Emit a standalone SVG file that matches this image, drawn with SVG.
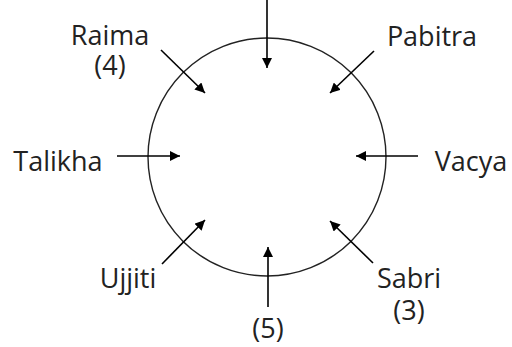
<svg xmlns="http://www.w3.org/2000/svg" width="512" height="347" viewBox="0 0 512 347">
<defs>
<marker id="ah" markerWidth="10" markerHeight="10" viewBox="0 0 10 10" refX="10" refY="5" orient="auto" markerUnits="userSpaceOnUse">
<path d="M0,0 L10,5 L0,10 Z" fill="#000"/>
</marker>
<style>
.lbl{font-family:"Open Sans","Noto Sans",sans-serif;font-size:27px;fill:#222;text-anchor:middle}
.con line{stroke:#000;stroke-width:1.6;marker-end:url(#ah)}
</style>
</defs>
<rect width="512" height="347" fill="#fff"/>
<g id="circle"><circle cx="267" cy="157" r="119" fill="none" stroke="#222" stroke-width="1.4"/></g>
<g class="con" id="connectors">
<line x1="267" y1="0" x2="267" y2="68"/>
<line x1="374" y1="51" x2="330" y2="93"/>
<line x1="418" y1="156" x2="356" y2="156"/>
<line x1="117" y1="156" x2="180" y2="156"/>
<line x1="161" y1="50" x2="205" y2="93"/>
<line x1="162" y1="264" x2="205" y2="220"/>
<line x1="373" y1="263" x2="330" y2="221"/>
<line x1="268" y1="307" x2="268" y2="247"/>
</g>
<g id="raima"><text class="lbl" x="110" y="45">Raima</text><text class="lbl" x="110" y="75">(4)</text></g>
<g id="pabitra"><text class="lbl" x="432" y="46">Pabitra</text></g>
<g id="talikha"><text class="lbl" x="58" y="171">Talikha</text></g>
<g id="vacya"><text class="lbl" x="471" y="171">Vacya</text></g>
<g id="ujjiti"><text class="lbl" x="128" y="288">Ujjiti</text></g>
<g id="sabri"><text class="lbl" x="409" y="288">Sabri</text><text class="lbl" x="409" y="320">(3)</text></g>
<g id="five"><text class="lbl" x="268" y="338">(5)</text></g>
</svg>
